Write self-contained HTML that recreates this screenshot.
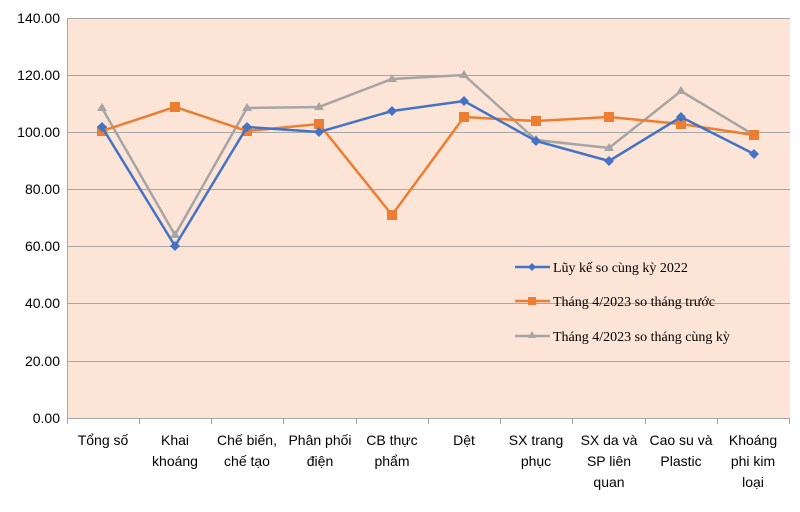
<!DOCTYPE html>
<html><head><meta charset="utf-8"><style>body{margin:0;background:#fff}svg{display:block}</style></head><body>
<svg width="800" height="512" xmlns="http://www.w3.org/2000/svg" font-family="Liberation Sans, sans-serif">
<rect x="0" y="0" width="800" height="512" fill="#fff"/>
<rect x="67" y="18" width="723" height="400" fill="#FCE4D6"/>
<g stroke="#a6a6a6" stroke-width="1">
<line x1="67" y1="18.5" x2="790" y2="18.5"/><line x1="67" y1="75.5" x2="790" y2="75.5"/><line x1="67" y1="132.5" x2="790" y2="132.5"/><line x1="67" y1="189.5" x2="790" y2="189.5"/><line x1="67" y1="246.5" x2="790" y2="246.5"/><line x1="67" y1="303.5" x2="790" y2="303.5"/><line x1="67" y1="361.5" x2="790" y2="361.5"/><line x1="67" y1="418.5" x2="790" y2="418.5"/>
<line x1="67.5" y1="18" x2="67.5" y2="418"/>
</g>
<g stroke="#a6a6a6"><line x1="139.5" y1="418" x2="139.5" y2="424"/><line x1="211.5" y1="418" x2="211.5" y2="424"/><line x1="283.5" y1="418" x2="283.5" y2="424"/><line x1="356.5" y1="418" x2="356.5" y2="424"/><line x1="428.5" y1="418" x2="428.5" y2="424"/><line x1="500.5" y1="418" x2="500.5" y2="424"/><line x1="572.5" y1="418" x2="572.5" y2="424"/><line x1="645.5" y1="418" x2="645.5" y2="424"/><line x1="717.5" y1="418" x2="717.5" y2="424"/><line x1="789.5" y1="418" x2="789.5" y2="424"/><line x1="67.5" y1="418" x2="67.5" y2="424"/></g>
<g font-size="14" fill="#000" text-anchor="end">
<text x="60" y="23">140.00</text><text x="60" y="80">120.00</text><text x="60" y="137">100.00</text><text x="60" y="194">80.00</text><text x="60" y="251">60.00</text><text x="60" y="308">40.00</text><text x="60" y="366">20.00</text><text x="60" y="423">0.00</text>
</g>
<g font-size="14" fill="#000" text-anchor="middle">
<text x="103" y="445">Tổng số</text>
<text x="175" y="445">Khai</text><text x="175" y="466">khoáng</text>
<text x="247" y="445">Chế biến,</text><text x="247" y="466">chế tạo</text>
<text x="320" y="445">Phân phối</text><text x="320" y="466">điện</text>
<text x="392" y="445">CB thực</text><text x="392" y="466">phẩm</text>
<text x="464" y="445">Dệt</text>
<text x="536" y="445">SX trang</text><text x="536" y="466">phục</text>
<text x="609" y="445">SX da và</text><text x="609" y="466">SP liên</text><text x="609" y="487">quan</text>
<text x="681" y="445">Cao su và</text><text x="681" y="466">Plastic</text>
<text x="753" y="445">Khoáng</text><text x="753" y="466">phi kim</text><text x="753" y="487">loại</text>
</g>
<!-- gray -->
<polyline fill="none" stroke="#A5A5A5" stroke-width="2.5" points="102,108 175,235 247,108 319,107 392,79 464,75 536,140 609,148 681,91 754,135"/>
<g fill="#A5A5A5"><path d="M102,103l5,8h-10z"/><path d="M175,230l5,8h-10z"/><path d="M247,103l5,8h-10z"/><path d="M319,102l5,8h-10z"/><path d="M392,74l5,8h-10z"/><path d="M464,70l5,8h-10z"/><path d="M536,135l5,8h-10z"/><path d="M609,143l5,8h-10z"/><path d="M681,86l5,8h-10z"/><path d="M754,130l5,8h-10z"/></g>
<!-- orange -->
<polyline fill="none" stroke="#ED7D31" stroke-width="2.5" points="102,131 175,107 247,131 319,124 392,215 464,117 536,121 609,117 681,124 754,135"/>
<g fill="#ED7D31"><rect x="97" y="126" width="10" height="10"/><rect x="170" y="102" width="10" height="10"/><rect x="242" y="126" width="10" height="10"/><rect x="314" y="119" width="10" height="10"/><rect x="387" y="210" width="10" height="10"/><rect x="459" y="112" width="10" height="10"/><rect x="531" y="116" width="10" height="10"/><rect x="604" y="112" width="10" height="10"/><rect x="676" y="119" width="10" height="10"/><rect x="749" y="130" width="10" height="10"/></g>
<!-- blue -->
<polyline fill="none" stroke="#4472C4" stroke-width="2.5" points="102,127 175,246 247,127 319,132 392,111 464,101 536,141 609,161 681,117 754,154"/>
<g fill="#4472C4"><path d="M102,122l5,5l-5,5l-5,-5z"/><path d="M175,241l5,5l-5,5l-5,-5z"/><path d="M247,122l5,5l-5,5l-5,-5z"/><path d="M319,127l5,5l-5,5l-5,-5z"/><path d="M392,106l5,5l-5,5l-5,-5z"/><path d="M464,96l5,5l-5,5l-5,-5z"/><path d="M536,136l5,5l-5,5l-5,-5z"/><path d="M609,156l5,5l-5,5l-5,-5z"/><path d="M681,112l5,5l-5,5l-5,-5z"/><path d="M754,149l5,5l-5,5l-5,-5z"/></g>
<!-- legend -->
<g font-family="Liberation Serif, serif" font-size="14" fill="#000">
<line x1="515" y1="267" x2="550" y2="267" stroke="#4472C4" stroke-width="2.5"/><path d="M532,263l4,4l-4,4l-4,-4z" fill="#4472C4"/>
<text x="553" y="272">Lũy kế so cùng kỳ 2022</text>
<line x1="515" y1="301" x2="550" y2="301" stroke="#ED7D31" stroke-width="2.5"/><rect x="528" y="297" width="8" height="8" fill="#ED7D31"/>
<text x="553" y="306">Tháng 4/2023 so tháng trước</text>
<line x1="515" y1="336" x2="550" y2="336" stroke="#A5A5A5" stroke-width="2.5"/><path d="M532,331l4,7h-8z" fill="#A5A5A5"/>
<text x="553" y="341">Tháng 4/2023 so tháng cùng kỳ</text>
</g>
</svg>
</body></html>
